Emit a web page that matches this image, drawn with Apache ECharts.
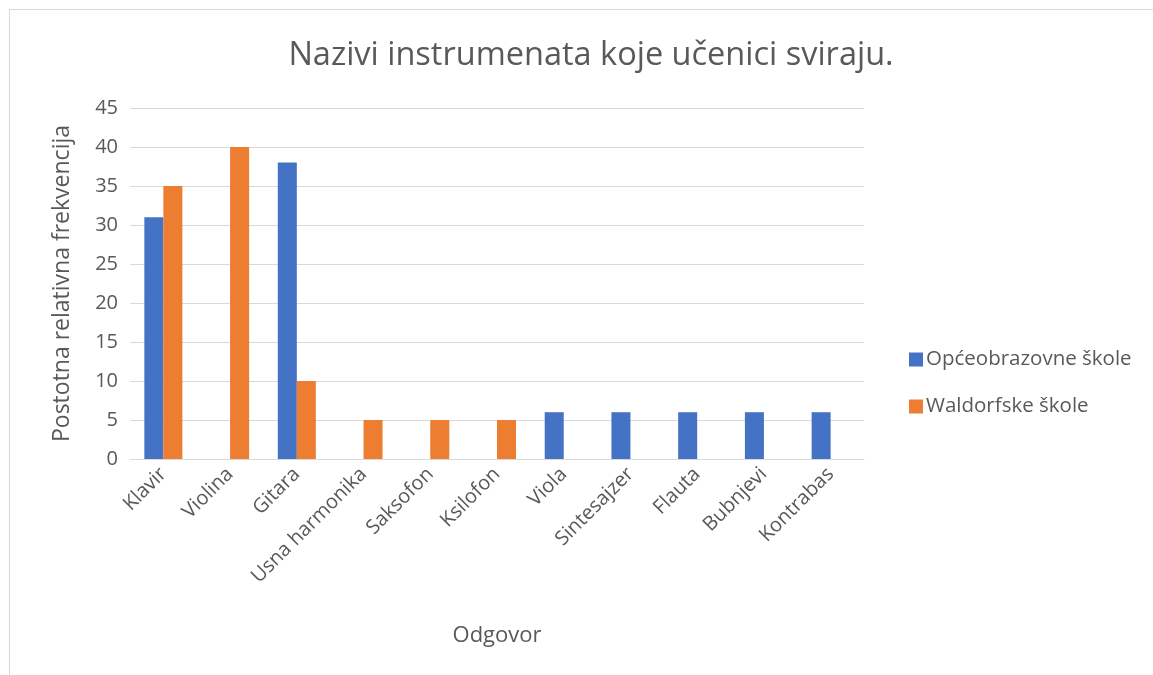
<!DOCTYPE html>
<html><head><meta charset="utf-8">
<script src="https://cdn.jsdelivr.net/npm/echarts@6/dist/echarts.min.js"></script>
<style>
html,body{margin:0;padding:0;background:#fff;}
#frame{position:absolute;left:9px;top:9px;width:1160px;height:680px;border:1px solid #d9d9d9;box-sizing:border-box;}
#c{position:absolute;left:0;top:0;width:1153px;height:675px;}
</style></head>
<body><div id="frame"></div><div id="c"></div>
<script>
const categories = ["Klavir","Violina","Gitara","Usna harmonika","Saksofon","Ksilofon","Viola","Sintesajzer","Flauta","Bubnjevi","Kontrabas"];
const opceobrazovne = [31, 0, 38, 0, 0, 0, 6, 6, 6, 6, 6];
const waldorfske = [35, 40, 10, 5, 5, 5, 0, 0, 0, 0, 0];
const seriesNames = ["Općeobrazovne škole","Waldorfske škole"];
const yTicks = {min:0, max:45, interval:5};

const FONT = "'Open Sans', sans-serif";
const TXT = "#595959";
const chart = echarts.init(document.getElementById('c'), null, {renderer:'canvas'});
chart.setOption({
  animation:false,
  color:["#4472C4","#ED7D31"],
  title:{text:"Nazivi instrumenata koje učenici sviraju.",left:586,top:34,textAlign:'center',
    textStyle:{fontFamily:FONT,fontSize:32.5,fontWeight:'normal',color:TXT}},
  legend:{orient:'vertical',left:904,top:344,itemWidth:14,itemHeight:14,itemGap:26,icon:'rect',
    textStyle:{fontFamily:FONT,fontSize:20.5,color:TXT,padding:[0,0,0,-2]},data:seriesNames},
  grid:{left:130,right:1153-864,top:108,bottom:675-459,containLabel:false},
  xAxis:{type:'category',data:categories,
    axisLine:{lineStyle:{color:'#d9d9d9',width:1}},axisTick:{show:false},
    axisLabel:{rotate:45,interval:0,fontFamily:FONT,fontSize:20,color:TXT,margin:12},
    name:"Odgovor",nameLocation:'middle',nameGap:166,
    nameTextStyle:{fontFamily:FONT,fontSize:22,color:TXT}},
  yAxis:{type:'value',min:yTicks.min,max:yTicks.max,interval:yTicks.interval,
    axisLine:{show:false},axisTick:{show:false},
    splitLine:{lineStyle:{color:'#d9d9d9',width:1}},
    axisLabel:{fontFamily:FONT,fontSize:20,color:TXT,margin:12},
    name:"Postotna relativna frekvencija",nameLocation:'middle',nameGap:56,
    nameTextStyle:{fontFamily:FONT,fontSize:23,color:TXT}},
  series:[
    {name:seriesNames[0],type:'bar',data:opceobrazovne,barGap:'0%',barCategoryGap:'43%'},
    {name:seriesNames[1],type:'bar',data:waldorfske,barGap:'0%',barCategoryGap:'43%'}
  ]
});
</script></body></html>
